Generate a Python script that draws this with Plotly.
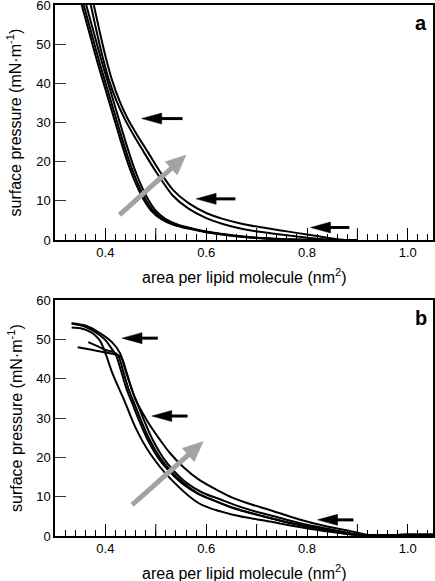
import math
import plotly.graph_objects as go

# ---------------- data ----------------
# panel a : isotherms (area per lipid, nm^2  vs surface pressure, mN/m)
a_bundle1_x = [0.353, 0.370, 0.385, 0.400, 0.415, 0.430, 0.445, 0.460, 0.475, 0.490, 0.510, 0.535, 0.565, 0.600, 0.650, 0.700, 0.760, 0.820, 0.900]
a_bundle1_y = [60, 52, 45, 38.5, 32, 25.5, 19.5, 14.5, 10.5, 7.6, 5.4, 3.9, 2.9, 2.0, 1.1, 0.5, 0.15, 0.0, 0.0]
a_bundle2_x = [0.357, 0.374, 0.389, 0.404, 0.419, 0.434, 0.449, 0.464, 0.479, 0.494, 0.514, 0.539, 0.569, 0.604, 0.654, 0.704, 0.764, 0.824, 0.900]
a_bundle2_y = [60, 52, 45, 38.5, 32, 25.5, 19.5, 14.5, 10.5, 7.6, 5.4, 3.9, 2.9, 2.0, 1.1, 0.5, 0.15, 0.0, 0.0]
a_bundle3_x = [0.362, 0.379, 0.394, 0.409, 0.424, 0.439, 0.454, 0.469, 0.484, 0.499, 0.519, 0.544, 0.574, 0.609, 0.659, 0.709, 0.769, 0.829, 0.900]
a_bundle3_y = [60, 52, 45, 38.5, 32, 25.5, 19.5, 14.5, 10.5, 7.6, 5.4, 3.9, 2.9, 2.0, 1.1, 0.5, 0.15, 0.0, 0.0]
a_pair1_x = [0.377, 0.389, 0.401, 0.414, 0.428, 0.444, 0.462, 0.484, 0.508, 0.534, 0.565, 0.600, 0.633, 0.666, 0.706, 0.760, 0.800, 0.840, 0.875, 0.900]
a_pair1_y = [60, 53, 46.5, 40.5, 35.5, 31, 27, 22.5, 17.5, 12.8, 9.4, 6.9, 5.4, 4.3, 3.3, 2.2, 1.4, 0.6, 0.0, 0.0]
a_pair2_x = [0.371, 0.383, 0.395, 0.408, 0.422, 0.438, 0.455, 0.476, 0.500, 0.534, 0.565, 0.600, 0.633, 0.666, 0.706, 0.760, 0.800, 0.840, 0.860, 0.900]
a_pair2_y = [60, 53, 46.5, 40.5, 35.5, 31, 27, 22.5, 17.5, 11.3, 8.0, 5.6, 4.1, 3.0, 2.1, 1.2, 0.6, 0.15, 0.0, 0.0]

# panel b
b_low_x = [0.333, 0.350, 0.365, 0.380, 0.390, 0.400, 0.415, 0.437, 0.460, 0.488, 0.528, 0.587, 0.653, 0.726, 0.785, 0.850, 0.900, 0.950, 1.000, 1.050]
b_low_y = [53.0, 52.8, 52.2, 51.0, 49.5, 46.5, 41.0, 34.6, 27.5, 21.1, 14.7, 8.2, 5.4, 3.7, 2.3, 1.0, 0.3, 0.2, 0.3, 0.3]
b_mid1_x = [0.333, 0.360, 0.380, 0.400, 0.413, 0.421, 0.431, 0.443, 0.454, 0.468, 0.484, 0.504, 0.524, 0.551, 0.583, 0.616, 0.649, 0.686, 0.722, 0.781, 0.836, 0.876, 0.906, 0.950, 1.000, 1.050]
b_mid1_y = [54.0, 53.2, 51.8, 49.8, 47.5, 46.0, 42, 37, 33.5, 29, 24.4, 20, 16.8, 13.5, 10.8, 9.0, 7.3, 5.9, 4.7, 2.9, 1.5, 0.6, 0.2, 0.2, 0.3, 0.3]
b_mid2_x = [0.366, 0.385, 0.400, 0.415, 0.425, 0.435, 0.447, 0.458, 0.472, 0.488, 0.508, 0.528, 0.555, 0.587, 0.620, 0.653, 0.690, 0.726, 0.785, 0.840, 0.880, 0.910, 0.950, 1.000, 1.050]
b_mid2_y = [49.3, 48.2, 47.3, 46.8, 46.0, 42, 37, 33.5, 29, 24.4, 20, 16.8, 13.5, 10.6, 8.8, 7.2, 5.8, 4.6, 2.8, 1.5, 0.6, 0.2, 0.2, 0.3, 0.3]
b_mid3_x = [0.345, 0.370, 0.395, 0.415, 0.431, 0.441, 0.453, 0.464, 0.478, 0.494, 0.514, 0.534, 0.561, 0.593, 0.626, 0.659, 0.696, 0.732, 0.791, 0.846, 0.886, 0.914, 0.950, 1.000, 1.050]
b_mid3_y = [48.0, 47.4, 46.8, 46.3, 45.5, 42, 37, 33.5, 29, 24.4, 20, 16.8, 13.5, 11.0, 9.4, 7.8, 6.3, 5.1, 3.1, 1.7, 0.7, 0.2, 0.2, 0.3, 0.3]
b_up_x = [0.333, 0.360, 0.389, 0.413, 0.429, 0.440, 0.452, 0.460, 0.475, 0.488, 0.508, 0.528, 0.555, 0.587, 0.620, 0.653, 0.690, 0.726, 0.785, 0.840, 0.884, 0.920, 0.960, 1.000, 1.050]
b_up_y = [54.1, 53.5, 51.6, 49.3, 46.5, 42, 37.5, 34.6, 31, 28.2, 24.5, 21.1, 17.5, 14.2, 11.8, 9.7, 8.0, 6.6, 4.2, 2.4, 1.3, 0.3, 0.2, 0.3, 0.3]

curves_a = [(a_bundle1_x, a_bundle1_y), (a_bundle2_x, a_bundle2_y), (a_bundle3_x, a_bundle3_y),
            (a_pair1_x, a_pair1_y), (a_pair2_x, a_pair2_y)]
curves_b = [(b_low_x, b_low_y), (b_mid1_x, b_mid1_y), (b_mid2_x, b_mid2_y),
            (b_mid3_x, b_mid3_y), (b_up_x, b_up_y)]

# black arrows: (tip x, y, tail x)
black_arrows_a = [(0.472, 31.0, 0.553), (0.580, 10.5, 0.658), (0.807, 3.2, 0.884)]
black_arrows_b = [(0.433, 50.3, 0.504), (0.492, 30.5, 0.563), (0.821, 4.1, 0.892)]
# grey arrows: (tail x, tail y, tip x, tip y)
grey_arrow_a = (0.428, 6.4, 0.560, 21.7)
grey_arrow_b = (0.453, 7.9, 0.594, 24.0)

x_label_ticks = [0.4, 0.6, 0.8, 1.0]
x_label_text = ["0.4", "0.6", "0.8", "1.0"]
x_long_unlabeled = [0.5, 0.7, 0.9]
y_tickvals = [0, 10, 20, 30, 40, 50, 60]
panel_labels = ["a", "b"]

# ---------------- layout geometry ----------------
W, H = 435, 581
X0, X1 = 55, 433          # plot area px (left, right)
A_TOP, A_BOT = 5, 240     # panel a px
B_TOP, B_BOT = 300, 536   # panel b px
XR = [0.3, 1.05]
YR = [0, 60]
KX = (X1 - X0) / (XR[1] - XR[0])
FONT = "Liberation Sans, Arial, Helvetica, sans-serif"
MAJOR_LEN = 12

fig = go.Figure()
for (xs, ys) in curves_a:
    fig.add_trace(go.Scatter(x=xs, y=ys, mode="lines", xaxis="x", yaxis="y",
                             line=dict(color="black", width=2, shape="spline", smoothing=0.8),
                             showlegend=False, hoverinfo="skip"))
for (xs, ys) in curves_b:
    fig.add_trace(go.Scatter(x=xs, y=ys, mode="lines", xaxis="x2", yaxis="y2",
                             line=dict(color="black", width=2, shape="spline", smoothing=0.8),
                             showlegend=False, hoverinfo="skip"))

shapes = []


def add_arrow(tail, tip, xref, yref, ky, color, shaft_w, head_len, head_half):
    dxp = (tip[0] - tail[0]) * KX
    dyp = (tip[1] - tail[1]) * ky
    L = math.hypot(dxp, dyp)
    ux, uy = dxp / L, dyp / L
    nx, ny = -uy, ux
    bx = tip[0] - head_len * ux / KX
    by = tip[1] - head_len * uy / ky
    c1 = (bx + head_half * nx / KX, by + head_half * ny / ky)
    c2 = (bx - head_half * nx / KX, by - head_half * ny / ky)
    sx = bx + 2 * ux / KX
    sy = by + 2 * uy / ky
    shapes.append(dict(type="line", xref=xref, yref=yref, x0=tail[0], y0=tail[1], x1=sx, y1=sy,
                       line=dict(color=color, width=shaft_w)))
    shapes.append(dict(type="path", xref=xref, yref=yref,
                       path=f"M {tip[0]},{tip[1]} L {c1[0]},{c1[1]} L {c2[0]},{c2[1]} Z",
                       fillcolor=color, line=dict(color=color, width=0.5)))


KYA = (A_BOT - A_TOP) / 60.0
KYB = (B_BOT - B_TOP) / 60.0
for (tx, ty, ex) in black_arrows_a:
    add_arrow((ex, ty), (tx, ty), "x", "y", KYA, "black", 3, 20, 5.5)
for (tx, ty, ex) in black_arrows_b:
    add_arrow((ex, ty), (tx, ty), "x2", "y2", KYB, "black", 3, 20, 5.5)
add_arrow(grey_arrow_a[:2], grey_arrow_a[2:], "x", "y", KYA, "#a3a3a3", 5, 20, 9)
add_arrow(grey_arrow_b[:2], grey_arrow_b[2:], "x2", "y2", KYB, "#a3a3a3", 5, 20, 9)

# long unlabeled ticks at 0.5, 0.7, 0.9
for xref, yref, ph in [("x", "y domain", A_BOT - A_TOP), ("x2", "y2 domain", B_BOT - B_TOP)]:
    for v in x_long_unlabeled:
        shapes.append(dict(type="line", xref=xref, yref=yref, x0=v, x1=v, y0=0, y1=MAJOR_LEN / ph,
                           line=dict(color="black", width=1)))

xdom = [X0 / W, X1 / W]
ydom_a = [1 - A_BOT / H, 1 - A_TOP / H]
ydom_b = [1 - B_BOT / H, 1 - B_TOP / H]

xaxis_common = dict(range=XR, domain=xdom, tickmode="array", tickvals=x_label_ticks, ticktext=x_label_text,
                    ticks="inside", ticklen=MAJOR_LEN, tickwidth=1, tickcolor="black",
                    minor=dict(dtick=0.02, tick0=0.3, ticks="inside", ticklen=6, tickwidth=1, tickcolor="black"),
                    showline=True, linecolor="black", linewidth=1.5, mirror=True,
                    showgrid=False, zeroline=False, fixedrange=True, automargin=False,
                    ticklabeloverflow="allow",
                    tickfont=dict(family=FONT, size=13, color="black"))
yaxis_common = dict(range=YR, tickmode="array", tickvals=y_tickvals,
                    ticks="inside", ticklen=11, tickwidth=1, tickcolor="#333",
                    showline=True, linecolor="black", linewidth=1.5, mirror=True,
                    showgrid=False, zeroline=False, fixedrange=True, automargin=False,
                    ticklabeloverflow="allow",
                    tickfont=dict(family=FONT, size=13, color="black"))

fig.update_layout(
    template="none",
    width=W, height=H, margin=dict(l=0, r=0, t=0, b=0, pad=0, autoexpand=False),
    paper_bgcolor="white", plot_bgcolor="white",
    xaxis=dict(**xaxis_common, anchor="y"),
    yaxis=dict(**yaxis_common, domain=ydom_a, anchor="x"),
    xaxis2=dict(**xaxis_common, anchor="y2"),
    yaxis2=dict(**yaxis_common, domain=ydom_b, anchor="x2"),
    shapes=shapes,
    showlegend=False,
)

xt = "area per lipid molecule (nm<sup>2</sup>)"
yt = "surface pressure (mN·m<sup>-1</sup>)"
annots = []
xc = ((X0 + X1) / 2) / W
for (top, bot, lab, xtitle_py) in [(A_TOP, A_BOT, panel_labels[0], 276), (B_TOP, B_BOT, panel_labels[1], 572)]:
    annots.append(dict(text=xt, xref="paper", yref="paper", x=xc, y=1 - xtitle_py / H,
                       xanchor="center", yanchor="middle", showarrow=False,
                       font=dict(family=FONT, size=16, color="black")))
    annots.append(dict(text=yt, xref="paper", yref="paper", x=15 / W, y=1 - ((top + bot) / 2) / H,
                       xanchor="center", yanchor="middle", textangle=-90, showarrow=False,
                       font=dict(family=FONT, size=16, color="black")))
    annots.append(dict(text=f"<b>{lab}</b>", xref="paper", yref="paper", x=421 / W, y=1 - (top + 18) / H,
                       xanchor="center", yanchor="middle", showarrow=False,
                       font=dict(family=FONT, size=20, color="black")))
fig.update_layout(annotations=annots)

fig.write_html("out.html", config={"displayModeBar": False},
               post_script="document.body.style.margin='0';document.body.style.overflow='hidden';")
